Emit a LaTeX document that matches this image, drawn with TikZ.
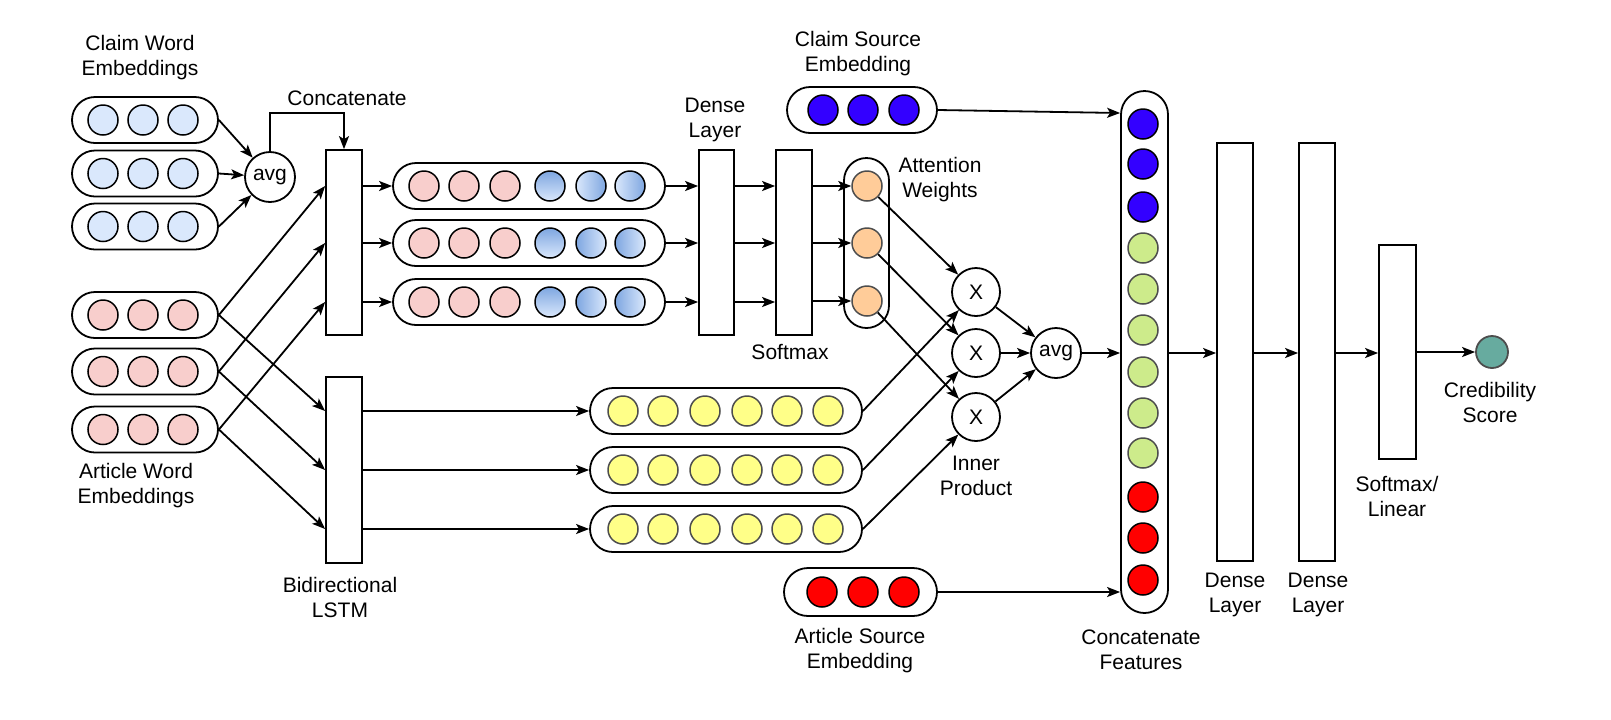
\documentclass[tikz,border=0pt]{standalone}
\usepackage{fontspec}
\setmainfont{Liberation Sans}
\usetikzlibrary{arrows.meta,calc}
\definecolor{cwblue}{HTML}{DAE8FC}
\definecolor{gdark}{HTML}{7EA6E0}
\definecolor{pinkc}{HTML}{F8CECC}
\definecolor{orangec}{HTML}{FFCC99}
\definecolor{yellowc}{HTML}{FFFF88}
\definecolor{greenc}{HTML}{CDEB8B}
\definecolor{srcblue}{HTML}{3300FF}
\definecolor{redc}{HTML}{FF0000}
\definecolor{tealc}{HTML}{67AB9F}
\definecolor{rimgray}{HTML}{4D4D4D}
\begin{document}
\begin{tikzpicture}[x=0.5pt,y=-0.5pt,
  lbl/.style={align=center, font=\fontsize{10.5}{12.5}\selectfont, inner sep=0pt},
  caps/.style={draw, line width=0.9pt, rounded corners=11.5pt, fill=white, inner sep=0pt},
  dot/.style={circle, draw, line width=0.75pt, minimum size=15pt, inner sep=0pt},
  gdot/.style={dot, draw=rimgray},
  boxn/.style={draw, line width=0.9pt, fill=white, minimum width=18pt, inner sep=0pt},
  op/.style={circle, draw, line width=0.9pt, fill=white, inner sep=0pt, font=\fontsize{10.5}{12.5}\selectfont},
  arr/.style={line width=0.9pt, -{Stealth[length=6.5pt,width=5pt,inset=1.5pt]}},
  ln/.style={line width=0.9pt}]
\useasboundingbox (0,0) rectangle (1611,719);

% ---------- claim word embeddings ----------
\foreach \i/\yy in {1/120,2/173.5,3/226.5}{
  \node[caps, minimum width=73pt, minimum height=23pt] (cw\i) at (145,\yy) {};
  \foreach \j/\xx in {1/103,2/143,3/183}{
    \node[dot, fill=cwblue] (cw\i c\j) at (\xx,\yy) {};
  }
}
% ---------- article word embeddings ----------
\foreach \i/\yy in {1/315,2/371.5,3/429.5}{
  \node[caps, minimum width=73pt, minimum height=23pt] (aw\i) at (145,\yy) {};
  \foreach \j/\xx in {1/103,2/143,3/183}{
    \node[dot, fill=pinkc] (aw\i c\j) at (\xx,\yy) {};
  }
}
\node[op, minimum size=25pt] (avgA) at (270,177) {avg};

% ---------- boxes ----------
\node[boxn, minimum height=92.5pt] (concat) at (344,242.5) {};
\node[boxn, minimum height=93pt] (lstm) at (344,470) {};
\node[boxn, minimum width=17.5pt, minimum height=92.5pt] (dense) at (716.5,242.5) {};
\node[boxn, minimum height=92.5pt] (soft) at (794,242.5) {};

% ---------- concatenated rows ----------
\foreach \i/\yy in {1/186,2/243,3/302}{
  \node[caps, minimum width=136pt, minimum height=23pt] (r\i) at (529,\yy) {};
  \foreach \j/\xx in {1/424,2/464,3/505}{
    \node[dot, fill=pinkc] (r\i c\j) at (\xx,\yy) {};
  }
  \node[dot, top color=gdark, bottom color=cwblue] (r\i c4) at (550,\yy) {};
}
\node[dot, left color=cwblue, right color=gdark] (r1c5) at (591,186) {};
\node[dot, left color=cwblue, right color=gdark] (r1c6) at (630,186) {};
\node[dot, left color=gdark, right color=cwblue] (r2c5) at (591,243) {};
\node[dot, left color=gdark, right color=cwblue] (r2c6) at (630,243) {};
\node[dot, left color=gdark, right color=cwblue] (r3c5) at (591,302) {};
\node[dot, left color=gdark, right color=cwblue] (r3c6) at (630,302) {};

% ---------- attention weights ----------
\node[caps, rounded corners=11.25pt, minimum width=22.5pt, minimum height=85pt] (att) at (866.5,243) {};
\foreach \i/\yy in {1/186,2/243,3/301}{
  \node[gdot, fill=orangec] (o\i) at (867,\yy) {};
}

% ---------- LSTM outputs ----------
\foreach \i/\yy in {1/411,2/470,3/529}{
  \node[caps, minimum width=136pt, minimum height=23pt] (y\i) at (726,\yy) {};
  \foreach \j/\xx in {1/623,2/663,3/705,4/747,5/787,6/828}{
    \node[gdot, fill=yellowc] (y\i c\j) at (\xx,\yy) {};
  }
}

% ---------- inner products ----------
\node[op, minimum size=24pt] (x1) at (976,292) {X};
\node[op, minimum size=24pt] (x2) at (976,353) {X};
\node[op, minimum size=24pt] (x3) at (976,417) {X};
\node[op, minimum size=25pt] (avgB) at (1056,353) {avg};

% ---------- source embeddings ----------
\node[caps, minimum width=75pt, minimum height=23pt] (cs) at (862,110) {};
\foreach \j/\xx in {1/823,2/863,3/904}{
  \node[dot, fill=srcblue] (cs c\j) at (\xx,110) {};
}
\node[caps, minimum width=76.5pt, minimum height=24pt, rounded corners=12pt] (as) at (860.5,592) {};
\foreach \j/\xx in {1/822,2/863,3/904}{
  \node[dot, fill=redc] (as c\j) at (\xx,592) {};
}

% ---------- concatenated features ----------
\node[caps, rounded corners=11.75pt, minimum width=23.5pt, minimum height=261pt] (cf) at (1144.5,352) {};
\foreach \j/\yy in {1/124,2/164,3/207}{
  \node[dot, fill=srcblue] (cf b\j) at (1143,\yy) {};
}
\foreach \j/\yy in {1/248,2/289,3/330,4/372,5/413,6/453}{
  \node[gdot, fill=greenc] (cf g\j) at (1143,\yy) {};
}
\foreach \j/\yy in {1/497,2/538,3/580}{
  \node[dot, fill=redc] (cf r\j) at (1143,\yy) {};
}

\node[boxn, minimum height=209pt] (d2) at (1235,352) {};
\node[boxn, minimum height=209pt] (d3) at (1317,352) {};
\node[boxn, minimum width=18.5pt, minimum height=107pt] (sl) at (1397.5,352) {};
\node[circle, draw=rimgray, line width=0.9pt, fill=tealc, minimum size=16pt, inner sep=0pt] (out) at (1492,352) {};

% ---------- labels ----------
\node[lbl] (lcw) at (140,57.5) {Claim Word\\Embeddings};
\node[lbl] (lcat) at (347,98) {Concatenate};
\node[lbl] (law) at (136,485.5) {Article Word\\Embeddings};
\node[lbl] (llstm) at (340,597.5) {Bidirectional\\LSTM};
\node[lbl] (ldense) at (715,119.5) {Dense\\Layer};
\node[lbl] (lsoft) at (790,352) {Softmax};
\node[lbl] (latt) at (940,179.5) {Attention\\Weights};
\node[lbl] (lcs) at (858,54) {Claim Source\\Embedding};
\node[lbl] (lip) at (976,475.5) {Inner\\Product};
\node[lbl] (las) at (860,650.5) {Article Source\\Embedding};
\node[lbl] (lcf) at (1141,649.5) {Concatenate\\Features};
\node[lbl] (ld2) at (1235,594.5) {Dense\\Layer};
\node[lbl] (ld3) at (1318,594.5) {Dense\\Layer};
\node[lbl] (lsl) at (1397,496.5) {Softmax/\\Linear};
\node[lbl] (lout) at (1490,402.5) {Credibility\\Score};

% ---------- connectors ----------
\foreach \i in {1,2,3}{
  \draw[arr] (cw\i.east) -- (avgA);
}
\draw[arr] (avgA.north) -- ++(0,-38) -| (concat.north);
\draw[arr] (aw1.east) -- (concat.west |- r1.west);
\draw[arr] (aw2.east) -- (concat.west |- r2.west);
\draw[arr] (aw3.east) -- (concat.west |- r3.west);
\draw[arr] (aw1.east) -- (lstm.west |- y1.west);
\draw[arr] (aw2.east) -- (lstm.west |- y2.west);
\draw[arr] (aw3.east) -- (lstm.west |- y3.west);
\foreach \i in {1,2,3}{
  \draw[arr] (concat.east |- r\i.west) -- (r\i.west);
  \draw[arr] (r\i.east) -- (dense.west |- r\i.east);
  \draw[arr] (dense.east |- r\i.east) -- (soft.west |- r\i.east);
  \draw[arr] (soft.east |- o\i) -- (o\i.west);
  \draw[arr] (lstm.east |- y\i.west) -- (y\i.west);
  \draw[arr] (o\i) -- (x\i);
  \draw[arr] (y\i.east) -- (x\i);
  \draw[arr] (x\i) -- (avgB);
}
\draw[arr] (avgB.east) -- (cf.west |- avgB.east);
\draw[arr] (cs.east) -- ($(cf.west |- cs.east)+(0,3)$);
\draw[arr] (as.east) -- (cf.west |- as.east);
\draw[arr] (cf.east |- avgB.east) -- (d2.west |- avgB.east);
\draw[arr] (d2.east |- avgB.east) -- (d3.west |- avgB.east);
\draw[arr] (d3.east |- avgB.east) -- (sl.west |- avgB.east);
\draw[arr] (sl.east |- out.west) -- (out.west);
\end{tikzpicture}
\end{document}
